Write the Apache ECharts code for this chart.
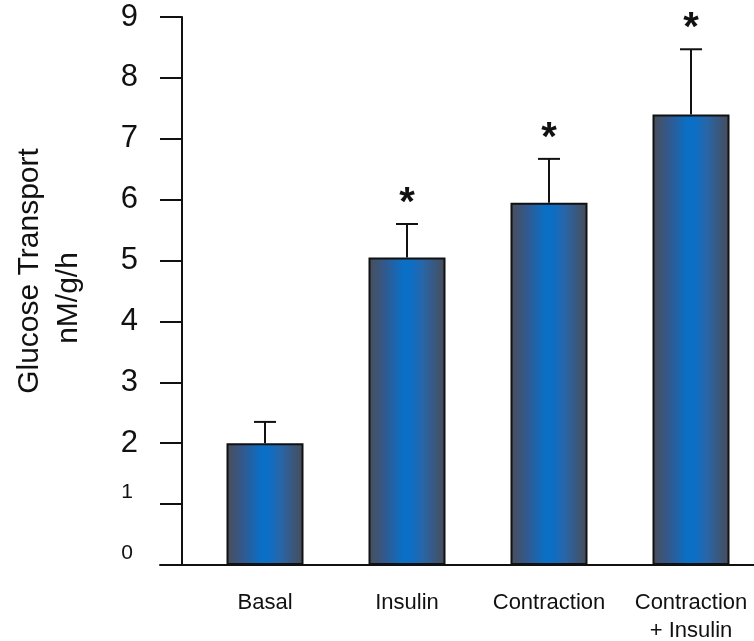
<!DOCTYPE html>
<html>
<head>
<meta charset="utf-8">
<script src="https://cdn.jsdelivr.net/npm/echarts@6/dist/echarts.min.js"></script>
<style>
  html, body { margin: 0; padding: 0; background: #fff; }
  #chart { width: 754px; height: 641px; }
</style>
</head>
<body>
<div id="chart"></div>
<script>
// Glucose transport by condition (mean with upper SEM bar)
const categories = ['Basal', 'Insulin', 'Contraction', 'Contraction\n+ Insulin'];
const meanValues = [2.0, 5.05, 5.95, 7.4];
const semValues = [0.35, 0.55, 0.72, 1.07];
const significant = [false, true, true, true];
const yTicks = [0, 1, 2, 3, 4, 5, 6, 7, 8, 9];

const FONT = '"Liberation Sans", Arial, sans-serif';
const INK = '#111111';

const barGradient = {
  type: 'linear', x: 0, y: 0, x2: 1, y2: 0,
  colorStops: [
    { offset: 0, color: '#4a4e58' },
    { offset: 0.2, color: '#34588a' },
    { offset: 0.45, color: '#0a6fc6' },
    { offset: 0.55, color: '#0c6ec4' },
    { offset: 0.7, color: '#2866aa' },
    { offset: 0.88, color: '#3c5678' },
    { offset: 1, color: '#474c58' }
  ]
};

const chart = echarts.init(document.getElementById('chart'), null, { renderer: 'canvas' });

const option = {
  animation: false,
  backgroundColor: '#ffffff',
  textStyle: { fontFamily: FONT },
  grid: [
    { left: 194, right: -8, top: 17, bottom: 76, containLabel: false, outerBoundsMode: 'none' },
    { left: 160, right: 0, top: 17, bottom: 76, containLabel: false, outerBoundsMode: 'none' }
  ],
  xAxis: [
    {
      type: 'category',
      gridIndex: 0,
      data: categories,
      boundaryGap: true,
      axisLine: { show: false },
      axisTick: { show: false },
      axisLabel: {
        color: INK, fontFamily: FONT, fontSize: 22, lineHeight: 28, margin: 24,
        interval: 0
      },
      splitLine: { show: false }
    },
    {
      // baseline running under the whole plot
      type: 'value',
      gridIndex: 1,
      min: 0, max: 1,
      axisLine: { show: true, lineStyle: { color: INK, width: 2 } },
      axisTick: { show: false },
      axisLabel: { show: false },
      splitLine: { show: false }
    }
  ],
  yAxis: [
    {
      type: 'value',
      gridIndex: 0,
      min: yTicks[0],
      max: yTicks[yTicks.length - 1],
      interval: 1,
      offset: 12,
      axisLine: { show: true, lineStyle: { color: INK, width: 2 } },
      axisTick: { show: true, inside: false, length: 22, lineStyle: { color: INK, width: 2 } },
      splitLine: { show: false },
      axisLabel: {
        margin: 44,
        color: INK,
        formatter: function (v) {
          return v <= 1 ? '{s|' + v + '}' : '{b|' + v + '}';
        },
        rich: {
          b: { fontSize: 31, fontFamily: FONT, color: INK, padding: [0, 0, 0, 0] },
          s: { fontSize: 21, fontFamily: FONT, color: INK, padding: [0, 5, 24, 0] }
        }
      },
      name: '{l1|Glucose Transport}\n{l2|nM/g/h}',
      nameLocation: 'middle',
      nameRotate: 90,
      nameGap: 94,
      nameTextStyle: {
        color: INK,
        fontFamily: FONT,
        fontSize: 30,
        lineHeight: 39,
        rich: {
          l1: { fontSize: 30, lineHeight: 39, fontFamily: FONT, color: INK, padding: [0, 0, 0, 40] },
          l2: { fontSize: 30, lineHeight: 39, fontFamily: FONT, color: INK, padding: [0, 14, 0, 0] }
        }
      }
    },
    { type: 'value', gridIndex: 1, show: false, min: 0, max: 1 }
  ],
  series: [
    {
      type: 'bar',
      xAxisIndex: 0,
      yAxisIndex: 0,
      data: meanValues,
      barWidth: 77,
      itemStyle: {
        color: barGradient,
        borderColor: INK,
        borderWidth: 2
      },
      z: 2
    },
    {
      // upper error bars with caps, plus significance asterisks
      type: 'custom',
      xAxisIndex: 0,
      yAxisIndex: 0,
      data: meanValues.map(function (m, i) { return [i, m, m + semValues[i]]; }),
      renderItem: function (params, api) {
        const i = api.value(0);
        const base = api.coord([i, api.value(1)]);
        const top = api.coord([i, api.value(2)]);
        const capHalf = 11;
        const children = [
          { type: 'line', shape: { x1: base[0], y1: base[1], x2: top[0], y2: top[1] },
            style: { stroke: INK, lineWidth: 2 } },
          { type: 'line', shape: { x1: top[0] - capHalf, y1: top[1], x2: top[0] + capHalf, y2: top[1] },
            style: { stroke: INK, lineWidth: 2 } }
        ];
        if (significant[i]) {
          children.push({
            type: 'text',
            style: {
              text: '*', x: top[0], y: top[1] - 20,
              fill: INK, font: 'bold 40px ' + FONT,
              textAlign: 'center', textVerticalAlign: 'middle'
            }
          });
        }
        return { type: 'group', children: children };
      },
      z: 3
    }
  ]
};

chart.setOption(option);
</script>
</body>
</html>
